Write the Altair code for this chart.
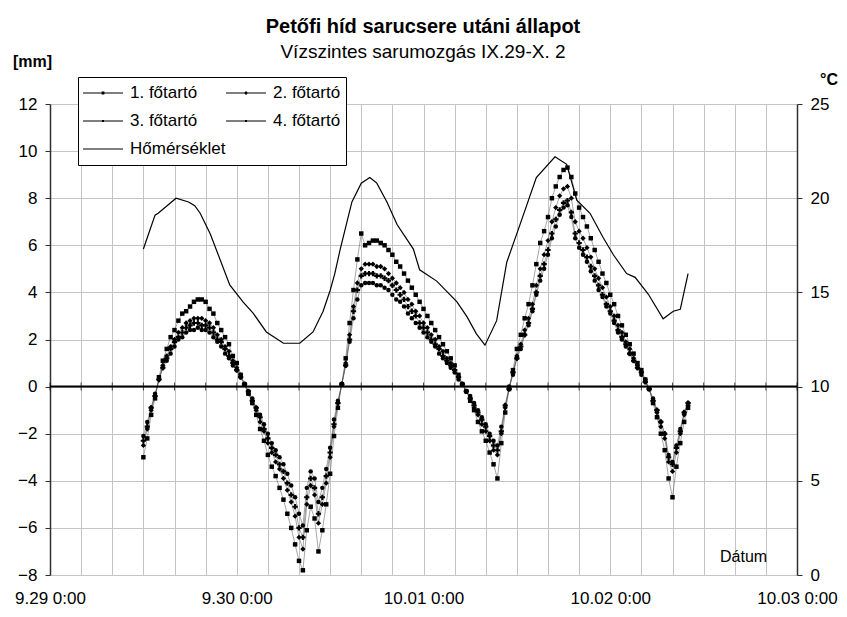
import altair as alt
import pandas as pd

# ---------------- data ----------------
series_names = ["1. főtartó", "2. főtartó", "3. főtartó", "4. főtartó"]
temp_name = "Hőmérséklet"

# displacement readings every 30 minutes, from 9.29 12:00 to 10.02 10:00 [mm]
s1 = [-3.0, -2.2, -1.2, -0.5, 0.4, 1.1, 1.6, 2.1, 2.4, 2.8,
      3.1, 3.2, 3.4, 3.6, 3.7, 3.7, 3.6, 3.3, 3.1, 2.7,
      2.4, 2.1, 1.8, 1.3, 1.0, 0.5, 0.1, -0.3, -0.7, -1.2,
      -1.8, -2.3, -2.9, -3.4, -3.8, -4.3, -4.8, -5.4, -6.0, -6.7,
      -7.4, -7.8, -6.1, -5.1, -5.6, -7.0, -6.1, -5.0, -3.7, -2.1,
      -0.9, 0.1, 1.2, 2.7, 4.1, 5.4, 6.5, 6.0, 6.1, 6.2,
      6.2, 6.1, 6.0, 5.8, 5.6, 5.3, 5.1, 4.8, 4.5, 4.2,
      3.9, 3.6, 3.3, 3.0, 2.7, 2.4, 2.1, 1.8, 1.5, 1.2,
      0.9, 0.5, 0.1, -0.2, -0.6, -1.0, -1.5, -1.9, -2.3, -2.8,
      -3.3, -3.9, -2.4, -1.1, -0.1, 0.7, 1.6, 2.2, 2.9, 3.5,
      4.3, 5.2, 6.1, 6.6, 7.2, 8.0, 8.5, 8.9, 9.2, 9.3,
      8.9, 8.2, 7.6, 7.2, 6.8, 6.3, 5.8, 5.3, 4.8, 4.4,
      3.9, 3.5, 3.0, 2.6, 2.2, 1.8, 1.4, 1.0, 0.7, 0.3,
      -0.1, -0.7, -1.3, -2.0, -2.7, -3.9, -4.7, -3.4, -2.4, -1.5,
      -0.9]
s2 = [-2.5, -1.8, -1.0, -0.4, 0.3, 0.9, 1.3, 1.7, 2.0, 2.3,
      2.5, 2.7, 2.8, 2.9, 2.9, 2.9, 2.8, 2.7, 2.5, 2.2,
      2.0, 1.7, 1.5, 1.1, 0.8, 0.5, 0.1, -0.3, -0.6, -1.0,
      -1.5, -1.9, -2.4, -2.8, -3.2, -3.5, -3.9, -4.4, -4.9, -5.5,
      -6.4, -6.9, -5.0, -4.2, -4.6, -5.8, -5.0, -4.1, -3.0, -1.7,
      -0.7, 0.1, 1.0, 2.2, 3.4, 4.4, 5.0, 5.2, 5.2, 5.2,
      5.1, 5.1, 5.0, 4.8, 4.6, 4.4, 4.2, 4.0, 3.7, 3.5,
      3.2, 3.0, 2.7, 2.5, 2.2, 2.0, 1.7, 1.5, 1.2, 1.0,
      0.7, 0.4, 0.1, -0.2, -0.5, -0.9, -1.2, -1.6, -1.9, -2.3,
      -2.7, -2.9, -2.0, -0.9, -0.1, 0.6, 1.3, 1.8, 2.4, 2.9,
      3.5, 4.3, 5.0, 5.6, 6.2, 7.0, 7.6, 8.1, 8.4, 8.5,
      8.0, 7.0, 6.6, 6.3, 5.9, 5.5, 5.0, 4.6, 4.2, 3.8,
      3.4, 3.0, 2.6, 2.3, 1.9, 1.6, 1.2, 0.9, 0.6, 0.3,
      -0.1, -0.6, -1.1, -1.7, -2.2, -3.2, -3.6, -2.8, -2.0, -1.2,
      -0.8]
s3 = [-2.3, -1.7, -0.9, -0.4, 0.3, 0.8, 1.2, 1.6, 1.9, 2.1,
      2.3, 2.5, 2.6, 2.7, 2.7, 2.6, 2.6, 2.5, 2.3, 2.0,
      1.9, 1.6, 1.3, 1.0, 0.7, 0.4, 0.1, -0.2, -0.6, -0.9,
      -1.3, -1.8, -2.2, -2.6, -2.9, -3.3, -3.6, -4.1, -4.6, -5.1,
      -6.0, -6.4, -4.7, -3.9, -4.3, -5.4, -4.7, -3.8, -2.8, -1.6,
      -0.7, 0.1, 0.9, 2.0, 3.2, 4.1, 4.7, 4.8, 4.8, 4.8,
      4.7, 4.7, 4.6, 4.5, 4.3, 4.1, 3.9, 3.7, 3.4, 3.2,
      3.0, 2.7, 2.5, 2.3, 2.0, 1.8, 1.6, 1.3, 1.1, 0.9,
      0.7, 0.4, 0.1, -0.2, -0.5, -0.8, -1.1, -1.4, -1.7, -2.1,
      -2.5, -2.7, -1.9, -0.8, -0.1, 0.6, 1.2, 1.7, 2.2, 2.7,
      3.3, 4.0, 4.7, 5.2, 5.8, 6.5, 7.1, 7.5, 7.8, 7.9,
      7.4, 6.5, 6.1, 5.8, 5.5, 5.1, 4.7, 4.3, 3.9, 3.5,
      3.2, 2.8, 2.4, 2.1, 1.8, 1.4, 1.1, 0.8, 0.6, 0.2,
      -0.1, -0.6, -1.0, -1.5, -2.0, -3.0, -3.3, -2.6, -1.9, -1.1,
      -0.7]
s4 = [-2.1, -1.5, -0.9, -0.3, 0.3, 0.8, 1.1, 1.4, 1.7, 2.0,
      2.1, 2.3, 2.4, 2.4, 2.5, 2.4, 2.4, 2.3, 2.1, 1.9,
      1.7, 1.4, 1.2, 0.9, 0.7, 0.4, 0.1, -0.2, -0.5, -0.9,
      -1.2, -1.6, -2.0, -2.4, -2.7, -3.0, -3.3, -3.7, -4.2, -4.7,
      -5.4, -5.9, -4.3, -3.6, -3.9, -4.9, -4.3, -3.5, -2.6, -1.4,
      -0.6, 0.1, 0.9, 1.9, 2.9, 3.7, 4.3, 4.4, 4.4, 4.4,
      4.3, 4.3, 4.2, 4.1, 3.9, 3.7, 3.6, 3.4, 3.1, 2.9,
      2.7, 2.5, 2.3, 2.1, 1.9, 1.7, 1.4, 1.2, 1.0, 0.8,
      0.6, 0.3, 0.1, -0.2, -0.4, -0.7, -1.0, -1.3, -1.6, -2.0,
      -2.3, -2.5, -1.7, -0.8, 0.0, 0.5, 1.2, 1.6, 2.2, 2.6,
      3.2, 3.9, 4.5, 5.0, 5.6, 6.3, 6.8, 7.3, 7.6, 7.7,
      7.2, 6.3, 5.9, 5.6, 5.3, 4.9, 4.5, 4.1, 3.8, 3.4,
      3.1, 2.7, 2.3, 2.0, 1.7, 1.4, 1.1, 0.8, 0.5, 0.2,
      -0.1, -0.5, -1.0, -1.5, -2.0, -2.9, -3.2, -2.5, -1.8, -1.1,
      -0.7]

# temperature: hours after 9.29 0:00 and degrees C
temp_hours = [12.0, 13.5, 13.9, 16.2, 17.8, 18.6, 19.3, 20.6, 23.1, 24.8,
              26.1, 27.8, 30.0, 32.1, 33.8, 35.1, 36.0, 36.6, 37.3, 38.8,
              40.0, 41.1, 42.0, 43.3, 44.6, 46.7, 47.5, 49.7, 52.3, 53.6,
              54.8, 55.9, 57.4, 58.7, 60.4, 62.5, 64.9, 66.4, 67.7, 69.4,
              71.1, 72.4, 74.1, 75.2, 76.9, 78.8, 80.1, 81.0, 82.0]
temp_vals = [17.3, 19.1, 19.2, 20.0, 19.8, 19.6, 19.2, 18.1, 15.4, 14.5,
             13.9, 12.9, 12.3, 12.3, 12.9, 14.0, 15.1, 16.0, 17.3, 19.8,
             20.8, 21.1, 20.8, 19.8, 18.6, 17.3, 16.2, 15.6, 14.5, 13.7,
             12.8, 12.2, 13.5, 16.6, 18.6, 21.1, 22.2, 21.8, 19.9, 19.2,
             17.9, 17.0, 16.0, 15.8, 14.9, 13.6, 14.0, 14.1, 16.0]

day_start = pd.Timestamp("2003-09-29 00:00")
series_start = pd.Timestamp("2003-09-29 12:00")

# ---------------- tables ----------------
rows = []
for name, vals in zip(series_names, [s1, s2, s3, s4]):
    times = pd.date_range(series_start, periods=len(vals), freq="30min")
    for t, v in zip(times, vals):
        rows.append({"t": t.strftime("%Y-%m-%dT%H:%M:%S"), "v": v, "s": name})
df = pd.DataFrame(rows)

tdf = pd.DataFrame({
    "t": [(day_start + pd.Timedelta(hours=h)).strftime("%Y-%m-%dT%H:%M:%S") for h in temp_hours],
    "T": temp_vals,
})

tick_times = pd.date_range(day_start, periods=25, freq="4h")
ticks_df = pd.DataFrame({"t": [t.strftime("%Y-%m-%dT%H:%M:%S") for t in tick_times], "y": 0})
tick_dt = [alt.DateTime(year=t.year, month=t.month, date=t.day, hours=t.hour) for t in tick_times]

FONT = "Liberation Sans"
GRID = "#c4c4c4"

xscale = alt.Scale(domain=[alt.DateTime(year=2003, month=9, date=29),
                           alt.DateTime(year=2003, month=10, date=3)])
xaxis = alt.Axis(values=tick_dt, grid=True, gridColor=GRID, gridWidth=1,
                 labelExpr="hours(datum.value) == 0 ? timeFormat(datum.value, '%-m.%d %-H:%M') : ''",
                 labelOverlap=False, labelFlush=False, labelFont=FONT, labelFontSize=17,
                 labelColor="black", labelPadding=15, ticks=False, domain=False, title=None)


def X():
    return alt.X("t:T", scale=xscale, axis=xaxis)


yscale = alt.Scale(domain=[-8, 12], nice=False, zero=False)
yaxis = alt.Axis(values=list(range(-8, 13, 2)), grid=True, gridColor=GRID, gridWidth=1,
                 domainColor="#303030", domainWidth=1.5, tickColor="#303030", tickSize=5,
                 labelFont=FONT, labelFontSize=17, labelColor="black", labelPadding=8, title=None)


def Y(field="v:Q"):
    return alt.Y(field, scale=yscale, axis=yaxis)


base = alt.Chart(df)

lines = base.mark_line(strokeWidth=0.6, color="#444444", opacity=0.8).encode(
    x=X(), y=Y(), detail="s:N")

marker_shapes = ["square", "diamond", "cross", "circle"]
marker_sizes = [20, 28, 28, 20]
point_layers = []
for name, shp, sz in zip(series_names, marker_shapes, marker_sizes):
    point_layers.append(
        base.transform_filter(alt.datum.s == name)
        .mark_point(filled=True, shape=shp, size=sz, color="black", opacity=1)
        .encode(x=X(), y=Y())
    )

zero_rule = alt.Chart(pd.DataFrame({"y": [0]})).mark_rule(color="black", strokeWidth=2).encode(
    y=Y("y:Q"))
zero_ticks = alt.Chart(ticks_df).mark_tick(orient="vertical", size=8, thickness=1, color="black").encode(
    x=X(), y=Y("y:Q"))

# legend (drawn from an invisible layer with Excel-like line+marker symbols);
# order gives rows "1. / 2.", "3. / 4.", "Hőmérséklet" in column-major layout
legend_names = [series_names[0], series_names[2], temp_name, series_names[1], series_names[3]]
LINE = "M-1,-0.02H1V0.02H-1Z"
legend_paths = [
    LINE + "M-0.07,-0.07H0.07V0.07H-0.07Z",
    LINE + "M-0.05,-0.05H0.05V0.05H-0.05Z",
    "M-1,-0.03H1V0.03H-1Z",
    LINE + "M0,-0.1L0.1,0L0,0.1L-0.1,0Z",
    LINE + "M-0.05,-0.05H0.05V0.05H-0.05Z",
]
legend_layer = alt.Chart(pd.DataFrame({"s": legend_names})).mark_point(
    filled=True, color="black", opacity=0).encode(
    x=alt.value(0), y=alt.value(0),
    shape=alt.Shape("s:N", sort=legend_names,
                    scale=alt.Scale(domain=legend_names, range=legend_paths),
                    legend=alt.Legend(orient="none", legendX=28, legendY=-27, columns=2,
                                      title=None, padding=5, strokeColor="black",
                                      fillColor="white", labelFont=FONT, labelFontSize=17,
                                      labelColor="black", symbolSize=1600,
                                      symbolStrokeWidth=0, symbolFillColor="black",
                                      symbolOpacity=1,
                                      clipHeight=22, rowPadding=6, columnPadding=0,
                                      labelOffset=7, labelLimit=300)))

one = pd.DataFrame({"a": [0]})


def label(text, x, y, size=17, weight="normal", align="left"):
    return alt.Chart(one).mark_text(text=text, font=FONT, fontSize=size, fontWeight=weight,
                                    align=align, baseline="middle", color="black").encode(
        x=alt.value(x), y=alt.value(y))


texts = [
    label("Petőfi híd sarucsere utáni állapot", 373, -77, 20, "bold", "center"),
    label("Vízszintes sarumozgás IX.29-X. 2", 373, -52, 19, "normal", "center"),
    label("[mm]", -37, -42, 16, "bold"),
    label("°C", 770, -24, 16, "bold"),
    label("Dátum", 670, 453, 16),
]

left = alt.layer(lines, *point_layers, zero_rule, zero_ticks, legend_layer, *texts)

temp = alt.Chart(tdf).mark_line(color="black", strokeWidth=1.2).encode(
    x=X(),
    y=alt.Y("T:Q", scale=alt.Scale(domain=[0, 25], nice=False, zero=False),
            axis=alt.Axis(orient="right", values=[0, 5, 10, 15, 20, 25], grid=False,
                          domainColor="#303030", domainWidth=1.5, tickColor="#303030",
                          tickSize=5, labelFont=FONT, labelFontSize=17, labelColor="black",
                          labelPadding=8, title=None)),
)

chart = alt.layer(left, temp).resolve_scale(y="independent").properties(
    width=747, height=471,
    autosize=alt.AutoSizeParams(type="none"),
    padding={"left": 42, "top": 96, "right": 42, "bottom": 33},
).configure_view(stroke=None).configure(background="white")

chart.save("out.html", embed_options={"renderer": "svg", "actions": False})
